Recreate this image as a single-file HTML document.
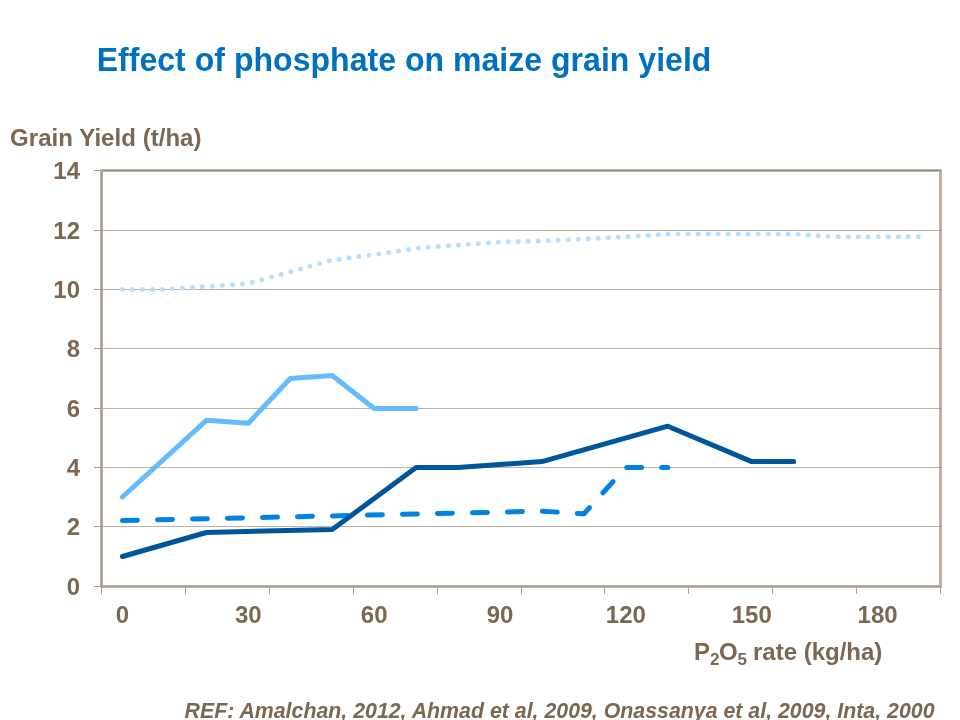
<!DOCTYPE html>
<html lang="en"><head><meta charset="utf-8"><title>Effect of phosphate on maize grain yield</title>
<style>
html,body{margin:0;padding:0;background:#fff;}
body{width:960px;height:720px;overflow:hidden;position:relative;font-family:"Liberation Sans",sans-serif;}
svg{position:absolute;left:0;top:0;display:block;}
text{font-family:"Liberation Sans",sans-serif;font-weight:bold;}
</style></head><body>
<svg width="960" height="720" viewBox="0 0 960 720">
<rect width="960" height="720" fill="#fff"/>

<text id="title" transform="translate(96.70,70.80) scale(1,1.015)" font-size="32" fill="#0070C0" text-anchor="start" letter-spacing="0.035">Effect of phosphate on maize grain yield</text>
<text id="ytitle" transform="translate(10.10,145.70) scale(1,1.000)" font-size="24" fill="#7B6752" text-anchor="start" letter-spacing="0.04">Grain Yield (t/ha)</text>
<rect x="101.5" y="170.5" width="839.0" height="416.0" fill="none" stroke="#BCB0A6" stroke-width="3" stroke-linejoin="round"/>
<line x1="103.0" x2="941.0" y1="526.5" y2="526.5" stroke="#7B6752" stroke-opacity="0.5" stroke-width="1"/>
<line x1="103.0" x2="941.0" y1="467.5" y2="467.5" stroke="#7B6752" stroke-opacity="0.5" stroke-width="1"/>
<line x1="103.0" x2="941.0" y1="408.5" y2="408.5" stroke="#7B6752" stroke-opacity="0.5" stroke-width="1"/>
<line x1="103.0" x2="941.0" y1="348.5" y2="348.5" stroke="#7B6752" stroke-opacity="0.5" stroke-width="1"/>
<line x1="103.0" x2="941.0" y1="289.5" y2="289.5" stroke="#7B6752" stroke-opacity="0.5" stroke-width="1"/>
<line x1="103.0" x2="941.0" y1="230.5" y2="230.5" stroke="#7B6752" stroke-opacity="0.5" stroke-width="1"/>
<line x1="103.0" x2="941.0" y1="170.5" y2="170.5" stroke="#7B6752" stroke-opacity="0.5" stroke-width="1"/>
<line x1="101.5" x2="101.5" y1="171.5" y2="587.0" stroke="#A89E94" stroke-width="1"/>
<line x1="102.5" x2="102.5" y1="172.0" y2="586.0" stroke="#B3A89E" stroke-width="1"/>
<line x1="101.0" x2="940.5" y1="586.5" y2="586.5" stroke="#A79D93" stroke-width="1"/>
<line x1="94" x2="101.5" y1="586.5" y2="586.5" stroke="#A89E94" stroke-width="1"/>
<text transform="translate(80.00,594.70) scale(1,1.000)" font-size="24" fill="#7B6752" text-anchor="end" >0</text>
<line x1="94" x2="101.5" y1="526.5" y2="526.5" stroke="#A89E94" stroke-width="1"/>
<text transform="translate(80.00,534.70) scale(1,1.000)" font-size="24" fill="#7B6752" text-anchor="end" >2</text>
<line x1="94" x2="101.5" y1="467.5" y2="467.5" stroke="#A89E94" stroke-width="1"/>
<text transform="translate(80.00,475.70) scale(1,1.000)" font-size="24" fill="#7B6752" text-anchor="end" >4</text>
<line x1="94" x2="101.5" y1="408.5" y2="408.5" stroke="#A89E94" stroke-width="1"/>
<text transform="translate(80.00,416.70) scale(1,1.000)" font-size="24" fill="#7B6752" text-anchor="end" >6</text>
<line x1="94" x2="101.5" y1="348.5" y2="348.5" stroke="#A89E94" stroke-width="1"/>
<text transform="translate(80.00,356.70) scale(1,1.000)" font-size="24" fill="#7B6752" text-anchor="end" >8</text>
<line x1="94" x2="101.5" y1="289.5" y2="289.5" stroke="#A89E94" stroke-width="1"/>
<text transform="translate(80.00,297.70) scale(1,1.000)" font-size="24" fill="#7B6752" text-anchor="end" >10</text>
<line x1="94" x2="101.5" y1="230.5" y2="230.5" stroke="#A89E94" stroke-width="1"/>
<text transform="translate(80.00,238.70) scale(1,1.000)" font-size="24" fill="#7B6752" text-anchor="end" >12</text>
<line x1="94" x2="101.5" y1="170.5" y2="170.5" stroke="#A89E94" stroke-width="1"/>
<text transform="translate(80.00,178.70) scale(1,1.000)" font-size="24" fill="#7B6752" text-anchor="end" >14</text>
<line x1="101.5" x2="101.5" y1="586.5" y2="594" stroke="#A89E94" stroke-width="1"/>
<line x1="185.5" x2="185.5" y1="586.5" y2="594" stroke="#A89E94" stroke-width="1"/>
<line x1="269.5" x2="269.5" y1="586.5" y2="594" stroke="#A89E94" stroke-width="1"/>
<line x1="353.5" x2="353.5" y1="586.5" y2="594" stroke="#A89E94" stroke-width="1"/>
<line x1="437.5" x2="437.5" y1="586.5" y2="594" stroke="#A89E94" stroke-width="1"/>
<line x1="521.5" x2="521.5" y1="586.5" y2="594" stroke="#A89E94" stroke-width="1"/>
<line x1="604.5" x2="604.5" y1="586.5" y2="594" stroke="#A89E94" stroke-width="1"/>
<line x1="688.5" x2="688.5" y1="586.5" y2="594" stroke="#A89E94" stroke-width="1"/>
<line x1="772.5" x2="772.5" y1="586.5" y2="594" stroke="#A89E94" stroke-width="1"/>
<line x1="856.5" x2="856.5" y1="586.5" y2="594" stroke="#A89E94" stroke-width="1"/>
<line x1="940.5" x2="940.5" y1="586.5" y2="594" stroke="#A89E94" stroke-width="1"/>
<text transform="translate(122.47,623.20) scale(1,1.000)" font-size="24" fill="#7B6752" text-anchor="middle" >0</text>
<text transform="translate(248.32,623.20) scale(1,1.000)" font-size="24" fill="#7B6752" text-anchor="middle" >30</text>
<text transform="translate(374.18,623.20) scale(1,1.000)" font-size="24" fill="#7B6752" text-anchor="middle" >60</text>
<text transform="translate(500.02,623.20) scale(1,1.000)" font-size="24" fill="#7B6752" text-anchor="middle" >90</text>
<text transform="translate(625.88,623.20) scale(1,1.000)" font-size="24" fill="#7B6752" text-anchor="middle" >120</text>
<text transform="translate(751.73,623.20) scale(1,1.000)" font-size="24" fill="#7B6752" text-anchor="middle" >150</text>
<text transform="translate(877.58,623.20) scale(1,1.000)" font-size="24" fill="#7B6752" text-anchor="middle" >180</text>
<polyline fill="none" stroke="#B5E0FF" stroke-width="5" stroke-linecap="round" stroke-linejoin="round" stroke-dasharray="0 10.0075" points="122.47,289.50 164.43,289.50 206.38,286.55 248.32,283.60 290.27,271.80 332.23,260.00 374.18,254.69 416.12,248.20 458.08,244.96 500.02,242.01 541.98,240.82 583.93,239.05 625.88,236.99 667.83,234.04 709.78,234.04 751.73,234.04 793.68,234.04 835.63,236.84 877.58,236.84 919.53,236.84"/>
<polyline fill="none" stroke="#66BBFF" stroke-width="5" stroke-linecap="round" stroke-linejoin="round" points="122.47,497.00 206.38,420.30 248.32,423.25 290.27,378.50 332.23,375.50 374.18,408.50 416.12,408.50"/>
<polyline fill="none" stroke="#0082E6" stroke-width="5" stroke-linecap="round" stroke-linejoin="round" stroke-dasharray="15 20" points="122.47,520.60 541.98,511.16 583.93,513.81 625.88,467.50 667.83,467.50"/>
<polyline fill="none" stroke="#00569A" stroke-width="5" stroke-linecap="round" stroke-linejoin="round" points="122.47,556.50 206.38,532.50 332.23,529.50 416.12,467.50 458.08,467.50 541.98,461.60 667.83,426.20 751.73,461.60 793.68,461.60"/>
<text id="xtitle" transform="translate(694.10,659.80) scale(1,1.000)" font-size="24" fill="#7B6752" text-anchor="start" >P<tspan font-size="17" dy="5">2</tspan><tspan dy="-5" dx="-0.6">O</tspan><tspan font-size="17" dy="5" dx="-0.2">5</tspan><tspan dy="-5" dx="-0.6"> rate (kg/ha)</tspan></text>
<text id="ref" transform="translate(184.50,717.50) scale(1,1.000)" font-size="21.33" fill="#7B6752" text-anchor="start" font-style="italic">REF: Amalchan, 2012, Ahmad et al, 2009, Onassanya et al, 2009, Inta, 2000</text>
</svg></body></html>
